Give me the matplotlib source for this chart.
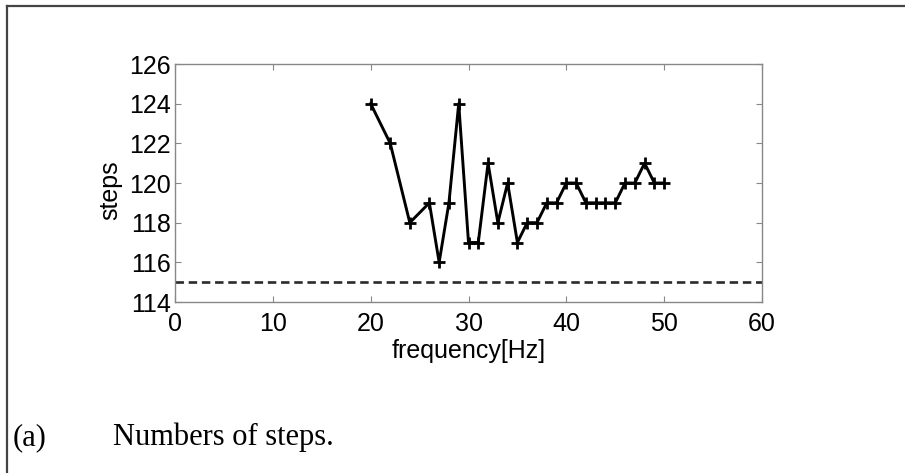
import matplotlib
matplotlib.use("Agg")
import matplotlib.pyplot as plt
from matplotlib.lines import Line2D

freq = [20, 22, 24, 26, 27, 28, 29, 30, 31, 32, 33, 34, 35, 36, 37, 38, 39, 40,
        41, 42, 43, 44, 45, 46, 47, 48, 49, 50]
steps = [124, 122, 118, 119, 116, 119, 124, 117, 117, 121, 118, 120, 117, 118, 118,
         119, 119, 120, 120, 119, 119, 119, 119, 120, 120, 121, 120, 120]
baseline = 115
xticks = [0, 10, 20, 30, 40, 50, 60]
yticks = [114, 116, 118, 120, 122, 124, 126]

W, H = 905, 473
fig = plt.figure(figsize=(W / 100, H / 100), dpi=100)
fig.patch.set_facecolor("white")

ax = fig.add_axes([175 / W, (H - 302) / H, 587 / W, 238 / H])
ax.plot(freq, steps, color="black", lw=2.1, marker="+", ms=9, mew=2.0)
ax.axhline(baseline, color="#2a2a2a", lw=1.9, ls=(0, (3.2, 1.8)))
ax.set_xlim(0, 60)
ax.set_ylim(114, 126)
ax.set_xticks(xticks)
ax.set_yticks(yticks)
for s in ax.spines.values():
    s.set_color("#888888")
    s.set_linewidth(1.0)
ax.tick_params(direction="in", length=4, width=0.8, color="#888888",
               top=True, right=True, labelsize=18)
ax.tick_params(axis="x", pad=7)
ax.tick_params(axis="y", pad=3)
for lab in ax.get_xticklabels() + ax.get_yticklabels():
    lab.set_fontfamily("Liberation Sans")
ax.set_xlabel("frequency[Hz]", fontsize=18, family="Liberation Sans", labelpad=2)
ax.set_ylabel("steps", fontsize=18, family="Liberation Sans")
ax.yaxis.set_label_coords(-0.09, 0.47)

# outer border (left and top)
x0 = 6.5 / W
y0 = 1 - 6 / H
fig.add_artist(Line2D([x0, x0], [0, y0], transform=fig.transFigure,
                      color="#444444", lw=1.6))
fig.add_artist(Line2D([x0, 1], [y0, y0], transform=fig.transFigure,
                      color="#444444", lw=1.6))

fig.text(13 / W, 1 - 445 / H, "(a)", fontsize=22, family="Liberation Serif",
         va="baseline", ha="left")
fig.text(113 / W, 1 - 445 / H, "Numbers of steps.", fontsize=22,
         family="Liberation Serif", va="baseline", ha="left")

fig.savefig("out.png", dpi=100, facecolor="white")
